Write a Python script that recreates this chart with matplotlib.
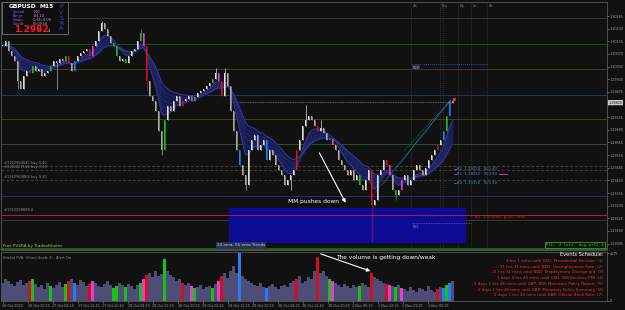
import matplotlib
matplotlib.use("Agg")
import matplotlib.pyplot as plt
import matplotlib.transforms as mtransforms
import numpy as np
import pandas as pd

# ---- data (one value per ~1 hour bar) ----
closes = [
    1.30112, 1.30137, 1.30086, 1.30060, 1.30035, 1.29932,
    1.29891, 1.29958, 1.29984, 1.29973, 1.30009, 1.29984, 1.29994, 1.29958, 1.29973,
    1.29984, 1.30009, 1.30035, 1.30025, 1.30045, 1.30035, 1.30060,
    1.30025, 1.29984, 1.30035, 1.30060, 1.30076, 1.30086,
    1.30096, 1.30060, 1.30112, 1.30137, 1.30188, 1.30229,
    1.30199, 1.30163, 1.30127, 1.30112, 1.30060, 1.30035,
    1.30045, 1.30025, 1.30060, 1.30086, 1.30096, 1.30137, 1.30178,
    1.30112, 1.29932, 1.29856, 1.29830, 1.29779, 1.29676, 1.29574,
    1.29728, 1.29804, 1.29779, 1.29830, 1.29856, 1.29804, 1.29830,
    1.29840, 1.29856, 1.29830, 1.29851, 1.29871, 1.29881, 1.29891,
    1.29907, 1.29922, 1.29943, 1.29973, 1.29932, 1.29856, 1.29973,
    1.29907, 1.29779, 1.29676, 1.29574, 1.29497, 1.29446, 1.29395,
    1.29574, 1.29625, 1.29651, 1.29574, 1.29600, 1.29625, 1.29523,
    1.29574, 1.29548, 1.29497, 1.29472, 1.29446, 1.29395, 1.29420,
    1.29446, 1.29472, 1.29574, 1.29625, 1.29702, 1.29728, 1.29753,
    1.29728, 1.29702, 1.29676, 1.29687, 1.29666, 1.29625, 1.29635,
    1.29600, 1.29574, 1.29523, 1.29497, 1.29472, 1.29446, 1.29472,
    1.29420, 1.29446, 1.29395, 1.29369, 1.29420, 1.29472, 1.29292,
    1.29318, 1.29446, 1.29472, 1.29523, 1.29497, 1.29446, 1.29369,
    1.29344, 1.29369, 1.29420, 1.29446, 1.29395, 1.29420, 1.29472,
    1.29497, 1.29472, 1.29446, 1.29482, 1.29523, 1.29548, 1.29574,
    1.29600, 1.29625, 1.29676, 1.29753, 1.29830, 1.29820,
]
wick_lows = {53: 1.29548, 81: 1.29369, 123: 1.29103, 5: 1.29891, 18: 1.29891,
             48: 1.29881, 96: 1.29369, 131: 1.29318}
wick_highs = {33: 1.30240, 46: 1.30199, 150: 1.29840, 71: 1.30000, 74: 1.30000,
              101: 1.29805, 106: 1.29728}

volumes = [
    972, 1188, 1080, 918, 810, 1026, 1134, 864, 972, 1080, 1188, 918,
    756, 864, 648, 972, 810, 702, 864, 1026, 756,
    918, 1080, 1188, 972, 864, 1134, 1026, 810, 918, 1080,
    972, 810, 756, 918, 1080, 864, 702, 810, 972, 864, 756, 918, 810, 648, 864, 972,
    1188, 1404, 1512, 1296, 1620, 1350, 1458, 2268, 1620, 1404,
    1296, 1080, 1188, 972, 864, 972, 810, 702, 756, 864, 648, 756, 810, 702, 918,
    1080, 1350, 1512, 1242, 1620, 1890, 1512, 2592, 1350, 1188, 1080, 972,
    864, 810, 972, 756, 702, 810, 918, 756, 648, 810, 864, 756, 972,
    1080, 1188, 1350, 972, 1080, 1296, 1188, 1620, 2376, 1512,
    1620, 1350, 1188, 1080, 972, 864, 756, 918, 810, 702, 864, 756, 810, 972, 864, 756,
    1512, 1296, 1188, 1080,
    972, 918, 864, 810, 756, 864, 702,
    648, 540, 756, 594, 486, 702, 648, 540, 810, 594, 486, 648, 756, 702, 864, 972, 1080,
]

# PVSRA colour classes (same bars in price and volume)
red_bars = [9, 22, 29, 48, 60, 73, 98, 105, 123, 128, 145]
green_bars = [10, 16, 21, 37, 38, 41, 46, 54, 64, 70, 109, 119, 131, 148]
blue_bars = [24, 79, 88, 147, 149]
magenta_bars = [30, 47, 63, 72, 110, 129, 133]

date_labels = ["26 Oct 2020", "26 Oct 20:15", "27 Oct 04:15", "27 Oct 12:15",
               "27 Oct 20:15", "28 Oct 04:15", "28 Oct 12:15", "28 Oct 20:15",
               "29 Oct 04:15", "29 Oct 12:15", "29 Oct 20:15", "30 Oct 04:15",
               "30 Oct 12:15", "30 Oct 20:15", "2 Nov 05:15", "2 Nov 13:15",
               "2 Nov 21:15", "3 Nov 05:15"]

events = [
    "3 hrs 1 mins until USD: Presidential Election  (1)",
    "11 hrs 31 mins until NZD: Unemployment Rate  (2)",
    "11 hrs 31 mins until NZD: Employment Change q/q  (3)",
    "1 days 4 hrs 46 mins until USD: ISM Services PMI  (4)",
    "2 days 1 hrs 46 mins until GBP: BOE Monetary Policy Report  (5)",
    "2 days 1 hrs 46 mins until GBP: Monetary Policy Summary  (6)",
    "2 days 1 hrs 46 mins until GBP: Official Bank Rate  (7)",
]

levels = [  # price, colour, style
    (1.30255, "#3a3a2a", "-"), (1.30122, "#1d4a1d", "-"), (1.29994, "#4a3a1e", "-"),
    (1.29861, "#26366a", "-"), (1.29738, "#4a3a1e", "-"), (1.29605, "#1d5a1d", "-"),
    (1.29492, "#4a4030", (0, (3, 2))), (1.29472, "#4a3a1e", (0, (3, 2))),
    (1.29420, "#404040", (0, (3, 2))), (1.29339, "#26335e", "-"),
    (1.29216, "#3a3a20", "-"), (1.29070, "#1d5a1d", "-"),
]
order_labels = [(1.29500, "#1162964642 buy 0.40"), (1.29478, "#1162227158 buy 0.30"),
                (1.29428, "#1162964864 buy 0.30"), (1.29255, "#1162298888 d")]
target_labels = [(1.29478, "R2  1.29274   000.40"), (1.29452, "R1  1.29250   000.40"),
                 (1.29406, "R3  1.29150   000.90")]
session_x = [136.2, 145.8, 146.8, 151.8, 156.2, 161.5]
session_names = ["As", "Fra", "", "Ny", "Lo", "As"]

BG = "#111111"
W, H = 625, 310


def fx(px):
    return px / W


def fy(py):
    return 1 - py / H


fig = plt.figure(figsize=(6.25, 3.10), dpi=100, facecolor=BG)
ax = fig.add_axes([fx(1), fy(250), fx(606), 248 / H], facecolor=BG)
axv = fig.add_axes([fx(1), fy(301), fx(606), 49 / H], facecolor=BG, sharex=ax)

n = len(closes)
x = np.arange(n)

# horizontal levels
for p, col, ls in levels:
    ax.axhline(p, color=col, lw=0.7, ls=ls, zorder=1)
for sx, nm in zip(session_x, session_names):
    ax.axvline(sx, color="#3c3c3c", lw=0.6, ls=(0, (1, 1.5)), zorder=1)
    ax.text(sx + 0.6, 1.30318, nm, color="#8a8a40", fontsize=2.8, va="center")

# blue zone
ax.add_patch(plt.Rectangle((75.5, 1.29103), 78.5, 0.00174, color="#0b0b96", zorder=2))
ax.axhline(1.29241, color="#b02035", lw=0.7, zorder=3)
ax.text(157.5, 1.29233, "S1  1.29200  p-40  loss", color="#d02020", fontsize=3.2, va="center")
ax.plot([136.5, 156], [1.29200, 1.29200], color="#c04080", lw=0.6, ls=(0, (1, 1)), zorder=3)
ax.text(136.6, 1.29190, "R2L", color="#9090a0", fontsize=2.6, va="top", zorder=4)
ax.plot([136.5, 161.5], [1.30020, 1.30020], color="#3040c0", lw=0.7, ls=(0, (1, 1)), zorder=3)
ax.text(136.6, 1.30010, "R2H", color="#a0a0a0", fontsize=2.6, va="top",
        bbox=dict(facecolor="#303030", edgecolor="none", pad=0.3))

# dotted current line and fan lines
ax.plot([76, 150], [1.29825, 1.29825], color="#808080", lw=0.6, ls=(0, (1, 1)), zorder=3)
for sx, sy in [(123.2, 1.29339), (126.5, 1.29395), (130.8, 1.29472), (134, 1.29574)]:
    ax.plot([sx, 149.5], [sy, 1.29835], color="#1a8aa8", lw=0.5, ls=(0, (1, 1.4)), zorder=3)

# EMA ribbon
s = pd.Series(closes)
ribbon = [s.ewm(span=sp, adjust=False).mean() for sp in [6, 7, 8, 10, 12, 14, 17]]
ax.fill_between(x, np.min(ribbon, axis=0), np.max(ribbon, axis=0), color="#161a48", zorder=3)
for line, col in zip(ribbon, ["#3a40a0", "#262a78", "#22266c", "#262a72",
                              "#22266c", "#262a78", "#3a40a0"]):
    ax.plot(x, line, color=col, lw=0.6, zorder=4)

# candles
def bar_color(i, up):
    if i in red_bars:
        return "#d01020"
    if i in green_bars:
        return "#18c018"
    if i in blue_bars:
        return "#2a7af0"
    if i in magenta_bars:
        return "#e040d0"
    return "#dcdcdc" if up else "#a8a8a8"


for i in range(n):
    o = closes[i - 1] if i > 0 else closes[0]
    c = closes[i]
    lo = min(wick_lows.get(i, min(o, c)), o, c)
    hi = max(wick_highs.get(i, max(o, c)), o, c)
    col = bar_color(i, c >= o)
    ax.vlines(i, lo, hi, color=col, lw=0.5, zorder=5)
    ax.bar(i, max(abs(c - o), 0.00003), bottom=min(o, c), width=0.45, color=col, zorder=5)

ax.plot(150.6, 1.29836, marker="s", ms=1.3, color="#ff2020", zorder=6)

# axes styling
ax.set_xlim(-0.5, 201.5)
ax.set_ylim(1.29062, 1.30337)
yt = [1.30265 - k * 0.00065 for k in range(19)]
ax.set_yticks(yt)
ax.set_yticklabels([f"{t:.5f}" for t in yt])
for a in (ax, axv):
    a.yaxis.tick_right()
    a.tick_params(axis="y", colors="#a0a0a0", labelsize=2.4, length=1.2, width=0.4, pad=0.6)
    for sp in a.spines.values():
        sp.set_color("#5a5a5a")
        sp.set_linewidth(0.6)
ax.tick_params(axis="x", bottom=False, labelbottom=False)
trans = mtransforms.blended_transform_factory(ax.transAxes, ax.transData)
ax.text(1.003, 1.2982, "1.29820", transform=trans, fontsize=2.4, color="#101010",
        va="center", zorder=8, bbox=dict(facecolor="#c8c8c8", edgecolor="none", pad=0.3))

# price annotations
ax.annotate("", xy=(114.8, 1.29292), xytext=(105.2, 1.29574),
            arrowprops=dict(arrowstyle="-|>", color="white", lw=0.8, mutation_scale=5), zorder=7)
ax.text(103.8, 1.29313, "MM pushes down", color="white", fontsize=4.2, ha="center", va="center", zorder=7)
for p, t in order_labels:
    ax.text(0.5, p, t, color="#8a8a8a", fontsize=2.6, va="bottom")
for p, t in target_labels:
    ax.text(151.5, p, t, color="#4a8ad8", fontsize=2.7, va="center")
    ax.plot([150.5, 151.3], [p, p], color="#4a8ad8", lw=0.5)
ax.plot([165.5, 168], [1.29452, 1.29452], color="#b030b0", lw=0.8)

# volume panel
vcols = [bar_color(i, True) if (i in red_bars or i in green_bars or i in blue_bars
                                 or i in magenta_bars) else "#4d4d78" for i in range(n)]
axv.bar(x, volumes, width=0.75, color=vcols, zorder=3)
axv.set_ylim(0, 2646)
axv.set_yticks([0, 2575])
axv.set_yticklabels(["0", "2575"])
xt = [k * 25 / 3 for k in range(len(date_labels))]
axv.set_xticks(xt)
axv.set_xticklabels(date_labels, ha="left")
axv.tick_params(axis="x", colors="#a0a0a0", labelsize=2.4, length=1.2, width=0.4, pad=0.8)
axv.annotate("", xy=(123.5, 1566), xytext=(105.2, 2592),
             arrowprops=dict(arrowstyle="-|>", color="white", lw=0.8, mutation_scale=5), zorder=7)
axv.text(127.8, 2376, "The volume is getting down/weak", color="white", fontsize=4.2,
         ha="center", va="center", zorder=7)

# figure-level overlays
fig.add_artist(plt.Rectangle((fx(2), fy(34)), fx(66), 32 / H, transform=fig.transFigure,
                             facecolor="#0e0e0e", edgecolor="#707070", lw=0.6, zorder=10))
fig.text(fx(9), fy(7), "GBPUSD", color="white", fontsize=4.3, fontweight="bold", va="center", zorder=11)
fig.text(fx(40), fy(7), "M15", color="white", fontsize=4.3, fontweight="bold", va="center", zorder=11)
for k, (lab, val) in enumerate([("Spread", "1.00"), ("Range", "124.10"),
                                ("Swaps", "-0.66,-0.09"), ("Candle", "00:09:18")]):
    fig.text(fx(13), fy(12 + 4 * k), lab, color="#a060c8", fontsize=2.4, va="center", zorder=11)
    fig.text(fx(33), fy(12 + 4 * k), val, color="#d0a0d8", fontsize=2.4, va="center", zorder=11)
fig.text(fx(14), fy(29.5), "1.2982", color="#ff1a1a", fontsize=6.5, fontweight="bold", va="center", zorder=11)
fig.text(fx(48), fy(30.5), "4", color="#c0c0c0", fontsize=3, va="center", zorder=11)
for k, ch in enumerate("PVSRA"):
    fig.text(fx(61.5), fy(7 + 5.5 * k), ch, color="#3a4ad0", fontsize=4.3, ha="center", va="center", zorder=11)

fig.add_artist(plt.Line2D([0, fx(607)], [fy(248.5), fy(248.5)], color="#1d6a1d", lw=0.7, zorder=9))
fig.text(fx(3), fy(245.5), "Free PVSRA by Tradeofthemc", color="#c0c040", fontsize=3, va="center", zorder=11)
fig.text(fx(241), fy(245.5), "24 ema, 55 ema Trends", color="#c8d0e8", fontsize=3, ha="center",
         va="center", zorder=11, bbox=dict(facecolor="#2a3058", edgecolor="none", pad=0.8))
fig.text(fx(575), fy(245), "PLL: 3 lots, avg p+12.3", color="#30d030", fontsize=3.1, ha="center",
         va="center", zorder=11, family="DejaVu Sans Mono",
         bbox=dict(facecolor="#0e0e0e", edgecolor="#30a030", lw=0.6, pad=0.8))
fig.text(fx(3), fy(258), "Stndrd PVA  (Chart Scale 1)   Alert On", color="#909090", fontsize=2.6,
         va="center", zorder=11)
fig.text(fx(603), fy(255), "Events Schedule:", color="white", fontsize=3.6, ha="right", va="center", zorder=11)
for k, ev in enumerate(events):
    fig.text(fx(603), fy(261 + 5.7 * k), ev, color="#ff2a2a", fontsize=2.9, ha="right", va="center", zorder=11)

fig.savefig("out.png", dpi=100, facecolor=BG)
